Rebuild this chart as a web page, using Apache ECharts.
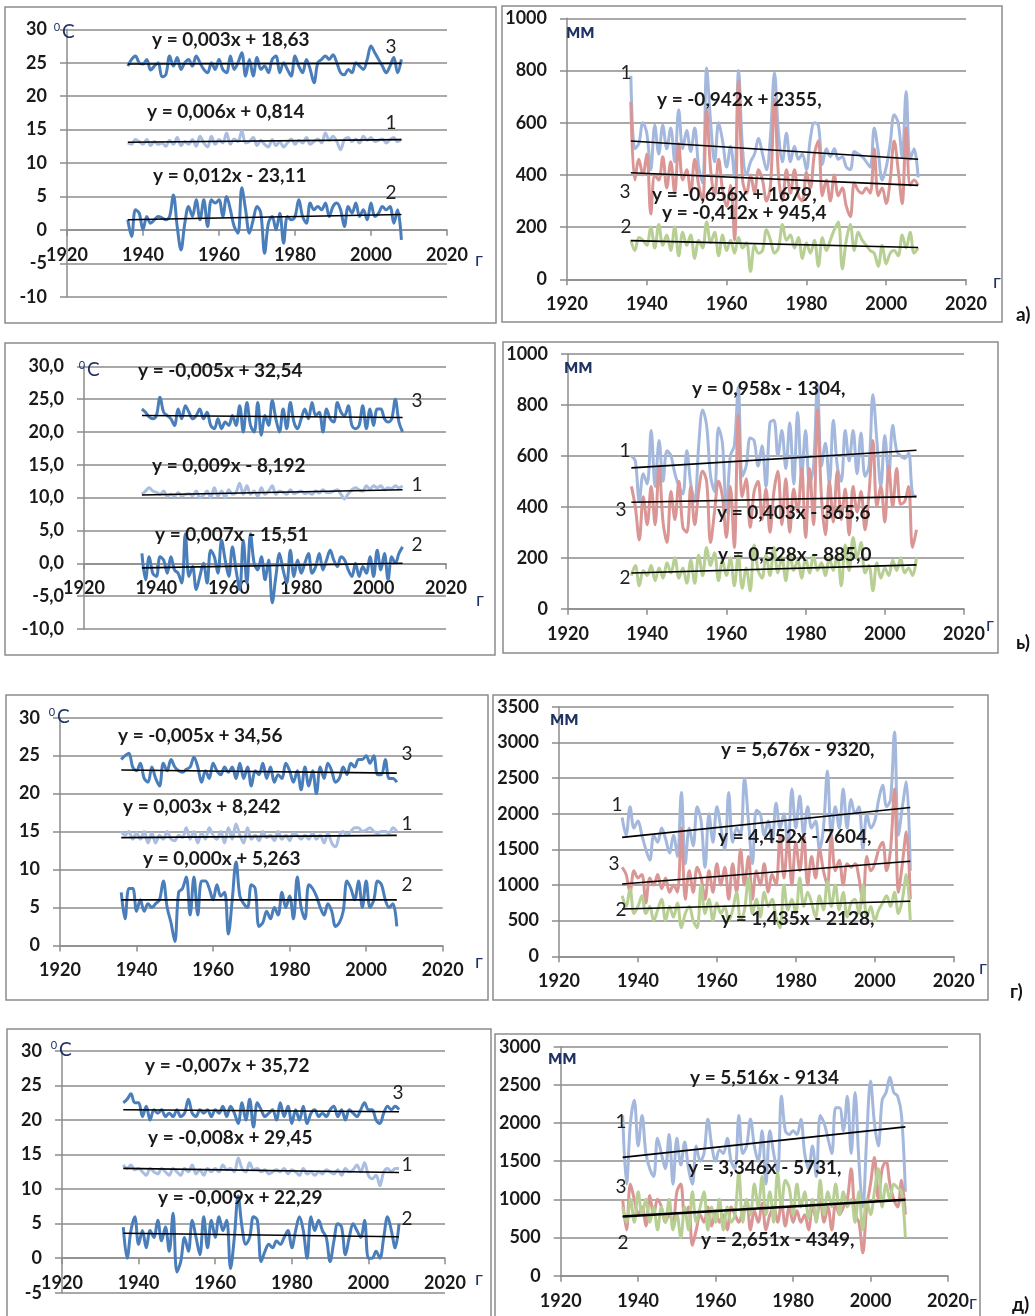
<!DOCTYPE html>
<html><head><meta charset="utf-8">
<script src="https://cdn.jsdelivr.net/npm/echarts@6/dist/echarts.min.js"></script>
<style>html,body{margin:0;padding:0;background:#fff}#c{width:1035px;height:1316px}</style>
</head><body><div id="c"></div><script>
// ---------- DATA ----------
const xTicks = [1920, 1940, 1960, 1980, 2000, 2020];
const startYear = 1936;

// Panel а) temperature (°C): series 3, 1, 2
const aT3 = [24.5,25.5,26,25,24.8,25.5,23.9,24.5,25,22.9,
  23.2,26,24.5,25.8,24,25,25.5,24.5,26,25,
  24,23.5,25,24,25.5,24,23.5,26,24,25,
  26.5,23,25.5,23,25.8,24,24.5,23.5,25.5,26,
  23.5,25,24,23,26,24.5,23.5,25.5,24,22,
  25,25.5,26,25.5,26.2,25,23.5,23.2,24,23.5,
  25,24.5,24,25.5,27.5,26.5,25.5,24.5,23.5,24.5,
  25.8,23.5,25.5];
const aT1 = [13.0,12.8,13.5,13.2,12.8,13.5,12.6,13.2,12.8,13.0,
  12.5,13.4,12.8,13.8,12.6,13.2,12.8,13.5,12.5,14.0,
  13.0,12.4,14.0,12.8,13.5,13.0,14.5,12.8,13.6,13.2,
  14.8,13.0,13.2,13.8,12.6,13.4,12.8,12.4,13.5,12.6,
  13.2,12.4,13.0,13.6,12.8,13.4,13.0,13.8,12.8,13.2,
  13.6,13.0,14.5,13.4,14.0,13.2,12.0,13.5,13.8,13.2,
  13.6,13.0,14.0,13.4,13.8,13.2,13.4,13.6,13.0,13.5,
  13.8,13.2,13.6];
const aT2 = [1.5,-1,3,2.5,0,2,1,1.5,2,1.8,
  1.5,2,5.2,0.5,-3,1,3.5,2,4.5,1.5,
  4.5,0.5,4.5,4,4.5,2,5,3,0.5,-0.5,
  6.3,3,-0.5,1.5,3.5,2.5,-3.5,1,2,0,
  2.5,-2,2,1.5,2,4.5,2,1,4,3,
  3.5,3,4,2,3.5,4,3,0.5,3.5,2.5,
  4,2,3,1.5,4,2,2.5,3.5,3,3.5,
  1,3,-1.5];
const aTTrend = [[24.8,24.9],[13.1,13.5],[1.5,2.3]];
const aTEq = ['y = 0,003x + 18,63','y = 0,006x + 0,814','y = 0,012x - 23,11'];

// Panel а) precipitation (мм): series 1, 3, 2
const aP1 = [780,500,520,600,560,420,590,480,590,500,
  580,450,650,500,570,490,580,430,370,810,
  600,450,600,530,430,510,390,800,500,400,
  450,480,540,480,420,550,790,560,450,560,
  450,510,460,480,420,540,600,590,440,500,
  470,500,460,470,430,420,490,480,470,450,
  430,580,490,380,430,520,630,600,470,720,
  460,500,390];
const aP3 = [680,380,460,400,480,250,400,380,470,350,
  450,330,520,380,420,330,460,360,300,650,
  420,320,460,340,280,360,150,760,380,330,
  400,330,420,380,300,360,690,400,300,420,
  330,420,320,300,410,350,480,530,320,380,
  300,400,320,350,280,240,370,340,330,350,
  330,500,320,350,290,380,530,420,290,580,
  360,380,360];
const aP2 = [150,110,160,150,130,200,120,210,130,170,
  110,200,90,180,130,170,80,150,120,220,
  140,180,90,170,110,150,100,160,120,140,
  30,130,100,110,190,150,100,120,210,150,
  170,120,160,80,140,100,150,50,160,110,
  150,190,220,40,150,210,110,180,150,130,
  110,100,50,130,60,100,110,90,170,120,
  180,100,120];
const aPTrend = [[530,460],[408,360],[148,122]];
const aPEq = ['y = -0,942x + 2355,','y = -0,656x + 1679,','y = -0,412x + 945,4'];

// Panel ь) temperature
const bT3 = [23.5,23,22.3,22,22.5,25.3,23,22.5,22,21,
  23.5,22,24,23,22,22.5,23.5,22,23,21,
  20.5,22,20.5,21.5,21,22.5,21,24,20,24.5,
  21,20,24.5,19.5,22.5,21,24.8,22,20,23.5,
  20.5,24.5,21.5,20.5,22,23.5,22,24.5,22.5,23,
  20,23.5,22,21.5,24.5,23,22.5,24,21,20.5,
  21,24,20.5,23.5,21,23.5,23.5,22,21.5,22,
  25,21.5,20];
const bT1 = [10.5,11,11.5,11,10.8,10.5,11,10.2,10.5,10.2,
  10.8,10.2,10.5,10.6,10.3,11,10,10.4,11,10,
  11.5,10.2,11,10,11.2,10.5,10.8,12.2,10.5,11.8,
  10.5,11,10.2,11.5,10.5,11,11.8,10.5,11,10.8,
  10.5,11.2,10.6,10.8,11,10.6,10.8,10.5,11,10.7,
  11.2,10.8,10.8,11,11.2,10.5,9.8,10.6,11.2,11.5,
  11.2,11,11.8,11.3,11.8,11.5,11.8,11.2,11.5,11.4,
  11.8,11.5,11.8];
const bT2 = [1.5,-2.5,1,-1.5,-2,1,0.5,-1.5,1,-1,
  -1.5,-3,4.5,-2,-0.5,-4,-2,0,-3,2,
  1,-1.5,3.5,0.5,-2,2.5,-1,-4,3.5,-3,
  4.5,0,-1,1,-2.5,0.5,-6,-2,1.5,-1,
  -3,2,-2,0.5,-1.5,0,1.5,-1.5,-0.5,1.5,
  -1,0.5,2,0.5,-0.5,1,0.5,-1,-2,0,
  -2,-0.5,-1.5,1,-2,2,-1,1.5,-2.5,1,
  0,1.5,2.5];
const bTTrend = [[22.5,22.2],[10.4,11.2],[-0.7,0]];
const bTEq = ['y = -0,005x + 32,54','y = 0,009x - 8,192','y = 0,007x - 15,51'];

// Panel ь) precipitation
const bP1 = [600,580,420,530,490,700,480,660,500,620,
  600,530,480,450,620,490,420,640,780,720,
  520,460,710,650,380,600,640,870,520,560,
  670,660,560,640,480,730,740,600,700,550,
  730,490,770,520,700,490,560,880,560,650,
  490,740,560,500,700,580,700,530,690,520,
  560,840,660,480,680,520,720,620,600,590,
  610,450,440];
const bP3 = [480,400,270,440,330,480,330,560,340,260,
  460,350,500,320,300,480,330,460,540,500,
  260,380,500,440,280,480,240,760,440,510,
  320,460,500,350,470,300,460,540,330,510,
  300,470,380,550,280,550,330,780,440,290,
  500,340,540,350,470,290,480,380,460,310,
  450,660,400,480,340,560,400,550,410,420,
  480,240,310];
const bP2 = [130,170,90,150,130,170,110,160,120,180,
  140,200,120,160,100,190,100,210,130,240,
  170,220,110,190,130,200,90,210,80,160,
  70,250,150,120,210,130,240,140,200,110,
  220,150,190,120,200,140,210,150,180,130,
  200,150,210,90,250,150,280,200,260,140,
  170,70,180,120,160,130,190,150,200,140,
  160,130,200];
const bPTrend = [[553,622],[418,440],[140,172]];
const bPEq = ['y = 0,958x - 1304,','y = 0,403x - 365,6','y = 0,528x - 885,0'];

// Panel г) temperature
const cT3 = [24.5,25,25.3,23.5,23,24,22,21.5,23.5,22,
  21,24,23,24.5,23.5,23,22.8,23.2,23.5,24.8,
  23.5,21.5,23,22,24,23,22.5,23.5,22.8,23.5,
  22,24,22,23.5,21,23,22.5,24,22,23.5,
  21.5,22.5,22,24,23,21.5,23,20.5,23.5,21,
  23,20,23.5,22,24,23,21.5,22,23.5,22.5,
  24,23.5,24.5,24.5,25,24,25,22.5,22.5,24.5,
  22,22,21.5];
const cT1 = [15,14.5,15,14,14.8,14,15,13.5,14.8,13.5,
  14.5,14,15,14,13.8,14.5,14.2,15.5,14,15,
  13.5,14.8,14,15.5,14.5,14,15,13.5,15.5,14,
  16,14.5,13.5,15.5,14,14.5,13.8,15,14.2,14.5,
  13.8,15,14,14.5,13.8,14.8,14.5,14,14.5,14,
  14.8,14,14.5,13.5,14.8,13.5,13,14.5,15,14.5,
  15,15.5,15.5,15,15.2,15.5,15,14.8,15,15,
  14.8,15.5,15];
const cT2 = [7,3.5,7.5,7.5,4.5,6,4.5,5.5,5,5.5,
  6,8.5,5,3,0.5,7,7.5,9,4,9,
  4,8.5,8.5,7.5,6,8,6.5,7,1.5,6,
  11,6.5,5.5,5,8,7.5,2.5,3,4.5,3.5,
  5,4,7,5,6.5,3.5,9,5,3.5,8,
  7.5,6.5,5,4,5.5,4.5,2.5,3,4.5,8.5,
  7.5,6,8.5,5,8.5,5,6,8.5,8,6,
  5,5.5,2.5];
const cTTrend = [[23.1,22.7],[14.2,14.5],[6.0,6.0]];
const cTEq = ['y = -0,005x + 34,56','y = 0,003x + 8,242','y = 0,000x + 5,263'];

// Panel г) precipitation (1936-2009)
const cP1 = [1950,1700,2100,1800,1900,1700,1500,1350,1700,1600,
  1800,1650,1450,1700,1400,2300,1300,1800,1550,2100,
  1900,1250,2000,1600,2100,1800,1500,2300,1600,1800,
  1700,2500,1900,1300,2050,2000,1700,1900,1600,2150,
  1800,2000,1500,2350,1800,2250,1700,2100,1800,1900,
  1500,1800,2600,1700,2100,1800,2350,1800,2200,2000,
  2100,1500,2000,1800,1900,2200,2400,2100,2200,3150,
  1700,2100,2450,1200];
const cP3 = [1250,1150,900,1200,1100,1150,750,1100,1000,1150,
  950,1100,900,1000,900,1800,800,1200,900,1250,
  1100,800,1200,900,1300,1000,1250,800,1300,900,
  1500,1000,1400,800,1200,1000,1300,900,1150,1000,
  1700,1100,1650,1000,1600,1200,1700,1000,1400,1100,
  1500,1200,1000,1700,1200,1350,1000,1300,1250,1300,
  1100,750,1400,1200,1300,1500,1600,1200,1500,2350,
  900,1300,1750,800];
const cP2 = [850,700,950,600,700,850,600,700,500,650,
  800,500,700,550,750,400,600,700,500,400,
  1000,600,800,500,750,600,700,500,650,900,
  500,650,1100,600,800,550,900,700,800,550,
  400,1000,650,800,600,1100,700,900,750,550,
  850,650,1050,700,1000,650,900,550,750,800,
  600,1000,550,700,500,650,750,850,700,900,
  600,800,1150,500];
const cPTrend = [[1670,2090],[1015,1334],[664,772]];
const cPEq = ['y = 5,676x - 9320,','y = 4,452x - 7604,','y = 1,435x - 2128,'];

// Panel д) temperature
const dT3 = [22.5,23,23.8,22.5,22.5,20.5,22,20,21.5,21,
  21.5,20.5,21,20.5,21.5,20.5,21,23,21,20.5,
  21.5,21,21.5,20.5,21.5,21,22,20.5,22,21,
  19.5,22.5,20,23,19,22.5,21.5,20.5,21,21.5,
  20,22.5,20.5,22,19.5,21.5,20,22,19.5,21,
  21.5,20.5,21,20.5,21.5,22,20.5,21.5,20,21.5,
  21,20.5,21.5,22.5,21.5,21.5,20,19.5,21,22,
  21.5,22,21.5];
const dT1 = [13.5,13,13.5,12.8,13,12.5,12,13,12.5,12.2,
  13,12.5,12,13,12.5,12,13,12.5,13.5,12.2,
  12.8,12,13,12.5,13,12.5,13.5,12.8,13,12.5,
  14.5,13,12.5,13.8,12.8,13,12.5,12.8,12.2,12.5,
  12.8,12.5,13,12.2,12.8,12.5,12,13,12.2,12.5,
  12,12.5,12.2,12.8,12.5,12.2,12.8,12,13,12.5,
  12.8,13.5,12.5,13.8,12,11.5,12,10.5,12.5,13,
  12.5,13,13];
const dT2 = [4.5,0,4,6,2,4,1.5,4,3,5.5,
  2.5,4.5,1,6.5,-2,-0.5,3,1,5.5,3,
  0.5,6,1.5,5.5,3,6,4,5.5,-1.5,3,
  9,4.5,2,3,6,5.5,-0.5,1,2,1.5,
  2.5,2,3,4,1.5,4,6,4,0,6,
  4,5.5,4,3,-0.5,2.5,5,4.5,0.5,3,
  5,4,3,5.5,0,0,1,0,3,6,
  4,1.5,5];
const dTTrend = [[21.5,21.2],[13.0,12.4],[3.6,3.1]];
const dTEq = ['y = -0,007x + 35,72','y = -0,008x + 29,45','y = -0,009x + 22,29'];

// Panel д) precipitation (1936-2009)
const dP1 = [2100,1200,2000,2300,1700,2100,1600,1400,1300,1800,
  1600,1400,1850,1200,1800,1450,1750,1400,1200,1700,
  1500,1600,2050,1700,1500,1650,1600,1800,1500,1400,
  2100,1600,1700,2050,1700,1500,1900,1200,1900,1600,
  1350,2350,1900,1850,1900,1850,2050,1600,1400,1700,
  1300,2100,2000,1800,1600,2200,2200,1900,2350,1600,
  2400,1500,900,1800,2550,2000,1700,2300,2400,2600,
  2400,2350,2100,1100];
const dP3 = [1000,600,1200,1000,800,900,650,1050,800,1000,
  900,700,800,700,1100,1200,800,900,400,600,
  800,700,900,650,850,700,800,600,900,800,
  700,850,950,600,850,700,950,600,800,900,
  700,950,650,900,700,850,700,800,600,900,
  750,1000,700,900,600,950,800,900,1000,1400,
  800,700,300,900,1200,1550,1000,1400,1500,1200,
  1000,900,1250,800];
const dP2 = [900,700,1000,700,1100,800,1000,700,900,600,
  900,700,1000,600,800,500,900,600,1100,700,
  900,1100,600,900,700,1000,600,900,700,800,
  1350,700,1000,800,1200,900,1300,800,1100,700,
  1350,900,1250,1150,800,1200,900,1100,750,1000,
  700,1250,800,1100,900,1200,800,1100,900,1000,
  700,1100,600,1000,800,1100,1400,900,1200,1000,
  1200,1150,1100,500];
const dPTrend = [[1550,1950],[780,1000],[770,990]];
const dPEq = ['y = 5,516x - 9134','y = 3,346x - 5731,','y = 2,651x - 4349,'];

// y-axis ranges [min, max, interval]
const tempRangeA = [-10, 30, 5];
const tempRangeB = [-10, 30, 5];
const tempRangeC = [0, 30, 5];
const tempRangeD = [-5, 30, 5];
const precRangeA = [0, 1000, 200];
const precRangeB = [0, 1000, 200];
const precRangeC = [0, 3500, 500];
const precRangeD = [0, 3000, 500];

// ---------- STYLE / LAYOUT ----------
const FONT = 'Lato';
const GRID_C = '#8c8c8c';
const DARK = '#4a7ebb', LIGHT = '#a9bee0';
const PBLUE = '#a3b8dc', PINK = '#d99694', GREEN = '#b8cf94';
const TXT = '#1a1a1a', UNIT = '#1f3264';

const panels = [
  {grid:[67,29.3,380,267.4], range:tempRangeA, dec:false, lines:[[aT3,DARK],[aT1,LIGHT],[aT2,DARK]], trend:aTTrend},
  {grid:[567,18.3,399,261], range:precRangeA, dec:false, lines:[[aP1,PBLUE],[aP3,PINK],[aP2,GREEN]], trend:aPTrend},
  {grid:[84,366.3,362,262.7], range:tempRangeB, dec:true, lines:[[bT3,DARK],[bT1,LIGHT],[bT2,DARK]], trend:bTTrend},
  {grid:[568,354,396,254.7], range:precRangeB, dec:false, lines:[[bP1,PBLUE],[bP3,PINK],[bP2,GREEN]], trend:bPTrend},
  {grid:[60,717.7,382.7,227.7], range:tempRangeC, dec:false, lines:[[cT3,DARK],[cT1,LIGHT],[cT2,DARK]], trend:cTTrend},
  {grid:[559,707,394.7,249.3], range:precRangeC, dec:false, lines:[[cP1,PBLUE],[cP3,PINK],[cP2,GREEN]], trend:cPTrend},
  {grid:[62,1051,383,241.7], range:tempRangeD, dec:false, lines:[[dT3,DARK],[dT1,LIGHT],[dT2,DARK]], trend:dTTrend},
  {grid:[560.7,1046.7,387.3,229], range:precRangeD, dec:false, lines:[[dP1,PBLUE],[dP3,PINK],[dP2,GREEN]], trend:dPTrend}
];

// text placement: [text, x(left), y(center)]
const eqPos = [
  [aTEq,[[152,40],[147,112],[153,176]]],
  [aPEq,[[657,100],[652,195],[662,213]]],
  [bTEq,[[138,371],[152,466],[155,535]]],
  [bPEq,[[692,389],[717,513],[718,555]]],
  [cTEq,[[118,736],[123,807],[143,859]]],
  [cPEq,[[721,750],[718,837],[721,919]]],
  [dTEq,[[145,1066],[148,1138],[158,1198]]],
  [dPEq,[[690,1078],[688,1168],[701,1240]]]
];
const numLabels = [
  ['3',391,47],['1',391,123],['2',391,193],
  ['1',626,73],['3',625,192],['2',626,227],
  ['3',417,401],['1',417,485],['2',417,545],
  ['1',625,451],['3',621,510],['2',625,578],
  ['3',407,754],['1',407,824],['2',407,885],
  ['1',617,805],['3',614,864],['2',621,910],
  ['3',398,1093],['1',407,1165],['2',407,1219],
  ['1',621,1122],['3',621,1187],['2',623,1243]
];
const tempUnits = [[60,32],[85,370],[55,717],[57,1050]];
const mmUnits = [[566,32],[564,367],[550,719],[548,1058]];
const gLabels = [[479,260],[997,282],[480,600],[990,625],[479,962],[983,968],[479,1279],[973,1303]];
const panelTags = [['а)',1016,315],['ь)',1016,643],['г)',1010,992],['д)',1012,1305]];
const boxes = [[5,7,491,316],[502,6,500,316],[5,343,490,312],[503,342,495,311],
  [6,695,482,305],[493,695,495,305],[7,1029,484,300],[495,1034,485,295]];

// ---------- BUILD ----------
const pts = (arr) => arr.map((v, i) => [startYear + i, v]);
const grid = [], xAxis = [], yAxis = [], series = [];
const lineStyleGrid = {color: GRID_C, width: 1.5};
panels.forEach((p, i) => {
  const [ymin, ymax, yint] = p.range;
  const zeroOffset = ymin < 0 ? -p.grid[3] * (0 - ymin) / (ymax - ymin) : 0;
  grid.push({left:p.grid[0], top:p.grid[1], width:p.grid[2], height:p.grid[3]});
  xAxis.push({gridIndex:i, type:'value', min:xTicks[0], max:xTicks[xTicks.length-1], interval:xTicks[1]-xTicks[0],
    offset: zeroOffset,
    axisLine:{show:true, onZero:false, lineStyle:lineStyleGrid},
    axisTick:{show:true, length:6, lineStyle:lineStyleGrid},
    axisLabel:{fontFamily:FONT, fontSize:18, fontWeight:'bold', color:TXT, margin:16, formatter:v=>String(v)},
    splitLine:{show:false}});
  yAxis.push({gridIndex:i, type:'value', min:ymin, max:ymax, interval:yint,
    axisLine:{show:true, onZero:false, lineStyle:lineStyleGrid},
    axisTick:{show:true, length:7, lineStyle:lineStyleGrid},
    axisLabel:{fontFamily:FONT, fontSize:18, fontWeight:'bold', color:TXT, margin:20,
      formatter: v => p.dec ? v.toFixed(1).replace('.', ',') : String(v)},
    splitLine:{show:true, lineStyle:lineStyleGrid}});
  p.lines.forEach(([arr, col]) => {
    series.push({type:'line', xAxisIndex:i, yAxisIndex:i, data:pts(arr), showSymbol:false, symbol:'none',
      smooth:0.35, lineStyle:{color:col, width:3}, itemStyle:{color:col}, silent:true, animation:false, z:2});
  });
  p.lines.forEach(([arr], k) => {
    const t = p.trend[k];
    series.push({type:'line', xAxisIndex:i, yAxisIndex:i,
      data:[[startYear, t[0]], [startYear + arr.length - 1, t[1]]], showSymbol:false, symbol:'none',
      lineStyle:{color:'#000', width:1.6}, silent:true, animation:false, z:3});
  });
});

const graphic = [];
boxes.forEach(b => graphic.push({type:'rect', shape:{x:b[0], y:b[1], width:b[2], height:b[3]},
  style:{fill:'none', stroke:'#8c8c8c', lineWidth:1.5}, z:0, silent:true}));
const txt = (s, x, y, font, fill, align) => graphic.push({type:'text', x:x, y:y, z:10, silent:true,
  style:{text:s, font:font, fill:fill, textAlign:align||'left', align:align||'left',
    textVerticalAlign:'middle', verticalAlign:'middle'}});
eqPos.forEach(([eqs, pos]) => eqs.forEach((e, k) => txt(e, pos[k][0], pos[k][1], 'bold 19px ' + FONT, TXT)));
numLabels.forEach(n => txt(n[0], n[1], n[2], '19px ' + FONT, '#222', 'center'));
tempUnits.forEach(u => { txt('0', u[0] - 3, u[1] - 5, '11px ' + FONT, UNIT, 'center'); txt('C', u[0] + 2, u[1], '19px ' + FONT, UNIT); });
mmUnits.forEach(u => txt('мм', u[0], u[1], 'bold 20px ' + FONT, UNIT));
gLabels.forEach(g => txt('г', g[0], g[1], '19px ' + FONT, UNIT, 'center'));
panelTags.forEach(t => txt(t[0], t[1], t[2], 'bold 19px ' + FONT, '#111'));

const chart = echarts.init(document.getElementById('c'), null, {renderer:'canvas'});
chart.setOption({animation:false, backgroundColor:'#fff', grid, xAxis, yAxis, series, graphic});
</script></body></html>
